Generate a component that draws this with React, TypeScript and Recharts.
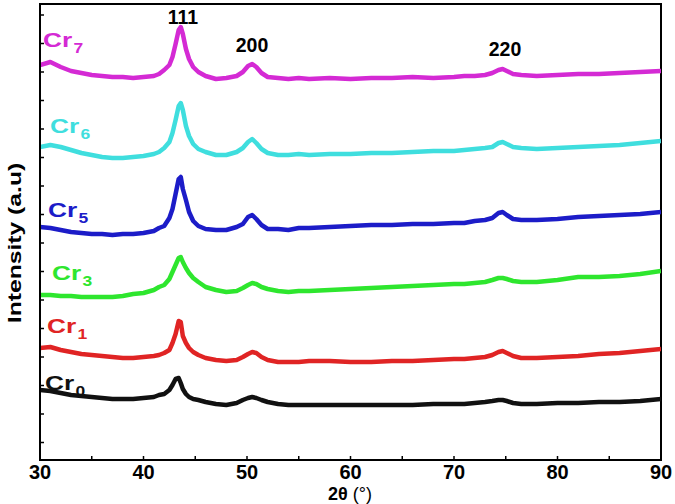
import { LineChart, Line, XAxis, YAxis, ReferenceArea } from "recharts";

// ─── Data (2θ in degrees, intensity in arbitrary units) ──────────────────────

const TWO_THETA = [
  30, 31, 32, 33, 34, 35, 36, 37, 38, 39, 40, 41, 41.5, 42, 42.5, 42.8, 43.1,
  43.4, 43.6, 43.8, 44.1, 44.4, 44.8, 45.3, 46, 47, 48, 49, 49.6, 50.1, 50.5,
  50.9, 51.4, 52, 53, 54, 55, 56, 58, 60, 62, 64, 66, 68, 70, 71, 72, 73, 73.7,
  74.3, 74.7, 75.1, 75.7, 76.5, 78, 80, 82, 84, 86, 88, 90,
];

const CR7 = [
  382, 385, 380, 376, 374, 372, 371, 370, 370, 369, 370, 371, 373, 377, 382,
  390, 403, 417, 420, 413, 398, 388, 380, 375, 371, 368, 369, 371, 375, 381,
  383, 380, 374, 370, 369, 368, 369, 368, 369, 368, 369, 369, 370, 369, 370,
  371, 371, 372, 374, 377, 378, 376, 373, 372, 371, 372, 373, 373, 374, 375, 376,
];

const CR6 = [
  300, 302, 300, 297, 294, 292, 290, 289, 289, 290, 291, 293, 295, 299, 305,
  314, 327, 341, 344, 337, 321, 311, 303, 298, 295, 292, 292, 295, 299, 305,
  308, 304, 298, 294, 292, 292, 293, 292, 293, 293, 294, 294, 295, 296, 296,
  297, 298, 299, 300, 304, 305, 303, 300, 299, 298, 299, 300, 301, 302, 304, 306,
];

const CR5 = [
  220, 219, 217, 215, 214, 213, 213, 212, 213, 213, 214, 216, 219, 221, 229,
  238, 253, 268, 270, 258, 247, 235, 226, 221, 218, 217, 217, 220, 223, 230,
  232, 228, 222, 218, 218, 217, 219, 219, 220, 221, 222, 222, 223, 223, 224,
  224, 226, 227, 229, 234, 235, 232, 228, 227, 227, 228, 230, 231, 232, 233, 235,
];

const CR3 = [
  152, 152, 151, 151, 150, 150, 150, 150, 151, 153, 154, 157, 160, 162, 168,
  175, 182, 189, 190, 185, 179, 174, 169, 165, 160, 157, 155, 156, 159, 162,
  164, 163, 160, 158, 156, 155, 156, 156, 157, 158, 159, 160, 161, 162, 163,
  163, 164, 165, 167, 169, 169, 168, 166, 165, 165, 167, 170, 170, 171, 173, 176,
];

const CR1 = [
  99, 100, 97, 95, 93, 92, 91, 90, 89, 89, 90, 91, 92, 94, 97,
  104, 113, 126, 125, 111, 104, 99, 95, 92, 89, 87, 86, 87, 90, 93,
  95, 94, 90, 87, 85, 85, 85, 86, 86, 85, 85, 86, 86, 87, 88,
  88, 89, 90, 92, 95, 96, 94, 91, 89, 89, 90, 91, 93, 94, 96, 98,
];

const CR0 = [
  57, 56, 54, 52, 51, 50, 49, 48, 48, 48, 49, 50, 52, 53, 57,
  62, 68, 69, 64, 58, 53, 50, 48, 47, 45, 43, 42, 44, 47, 49,
  50, 49, 47, 45, 43, 42, 42, 42, 42, 42, 42, 42, 42, 43, 43,
  43, 44, 45, 46, 47, 47, 46, 44, 43, 43, 44, 44, 45, 45, 46, 48,
];

const X_TICKS = [30, 35, 40, 45, 50, 55, 60, 65, 70, 75, 80, 85, 90];
const Y_TICKS = [
  4.5, 33, 61.5, 90, 118.5, 147, 175.5, 204, 232.5, 261, 289.5, 318, 346.5,
  375, 403.5, 432,
];
const Y_DOMAIN: [number, number] = [-13, 443];

const PEAKS = ["111", "200", "220"];

// ─── Styling ─────────────────────────────────────────────────────────────────

const FONT = '"Liberation Sans", Arial, sans-serif';

const SERIES = [
  { key: "cr7", label: "7", color: "#d42ad4", values: CR7 },
  { key: "cr6", label: "6", color: "#3fdede", values: CR6 },
  { key: "cr5", label: "5", color: "#1c1cc8", values: CR5 },
  { key: "cr3", label: "3", color: "#2ee62e", values: CR3 },
  { key: "cr1", label: "1", color: "#e02424", values: CR1 },
  { key: "cr0", label: "0", color: "#111111", values: CR0 },
];

// where each Cr label sits (left edge, baseline)
const LABEL_POS = [
  [43, 47],
  [50, 133],
  [48, 217],
  [52, 280],
  [47, 333],
  [45, 390],
];

const PEAK_POS = [
  [183, 24],
  [252, 52],
  [505, 56],
];

const data = TWO_THETA.map((x, i) => {
  const row: Record<string, number> = { x };
  SERIES.forEach((s) => {
    row[s.key] = s.values[i];
  });
  return row;
});

export default function App() {
  return (
    <div style={{ position: "relative", width: 675, height: 504, background: "#fff" }}>
      <style>{`body{margin:0}`}</style>
      <LineChart
        width={675}
        height={504}
        data={data}
        margin={{ top: 4, right: 14, bottom: 0, left: 0 }}
      >
        <XAxis
          type="number"
          dataKey="x"
          domain={[30, 90]}
          ticks={X_TICKS}
          interval={0}
          allowDataOverflow
          height={44}
          tickSize={-4}
          tickMargin={9}
          tickFormatter={(v) => (v % 10 === 0 ? String(v) : "")}
          axisLine={{ stroke: "#000", strokeWidth: 2 }}
          tickLine={{ stroke: "#000", strokeWidth: 1.5 }}
          tick={{ fill: "#000", fontSize: 20, fontWeight: 700, fontFamily: FONT }}
        />
        <YAxis
          type="number"
          domain={Y_DOMAIN}
          ticks={Y_TICKS}
          interval={0}
          allowDataOverflow
          width={40}
          tickSize={-4}
          tickFormatter={() => ""}
          axisLine={{ stroke: "#000", strokeWidth: 2 }}
          tickLine={{ stroke: "#000", strokeWidth: 1.5 }}
        />
        {SERIES.map((s) => (
          <Line
            key={s.key}
            type="linear"
            dataKey={s.key}
            stroke={s.color}
            strokeWidth={4.5}
            strokeLinejoin="round"
            dot={false}
            isAnimationActive={false}
          />
        ))}
        <ReferenceArea
          x1={30}
          x2={90}
          y1={Y_DOMAIN[0]}
          y2={Y_DOMAIN[1]}
          fill="none"
          stroke="#000"
          strokeWidth={2}
        />
      </LineChart>

      <svg
        width={675}
        height={504}
        style={{ position: "absolute", left: 0, top: 0, pointerEvents: "none" }}
        fontFamily={FONT}
        fontWeight={700}
      >
        {PEAKS.map((p, i) => (
          <text key={p} x={PEAK_POS[i][0]} y={PEAK_POS[i][1]} fontSize={19.5} textAnchor="middle" fill="#000">
            {p}
          </text>
        ))}

        {SERIES.map((s, i) => (
          <g key={s.key} transform={`translate(${LABEL_POS[i][0]} ${LABEL_POS[i][1]}) scale(1.25 1)`}>
            <text x={0} y={0} fontSize={21} fill={s.color}>
              Cr
              <tspan fontSize={14} dx={1} dy={6}>
                {s.label}
              </tspan>
            </text>
          </g>
        ))}

        <g transform="translate(15 243) rotate(-90) scale(1.3 1)">
          <text x={0} y={0} fontSize={19} textAnchor="middle" dominantBaseline="central" fill="#000">
            Intensity (a.u)
          </text>
        </g>

        <text x={350} y={500} fontSize={18} textAnchor="middle" fill="#000">
          2θ <tspan fontWeight={400}>(°)</tspan>
        </text>
      </svg>
    </div>
  );
}
